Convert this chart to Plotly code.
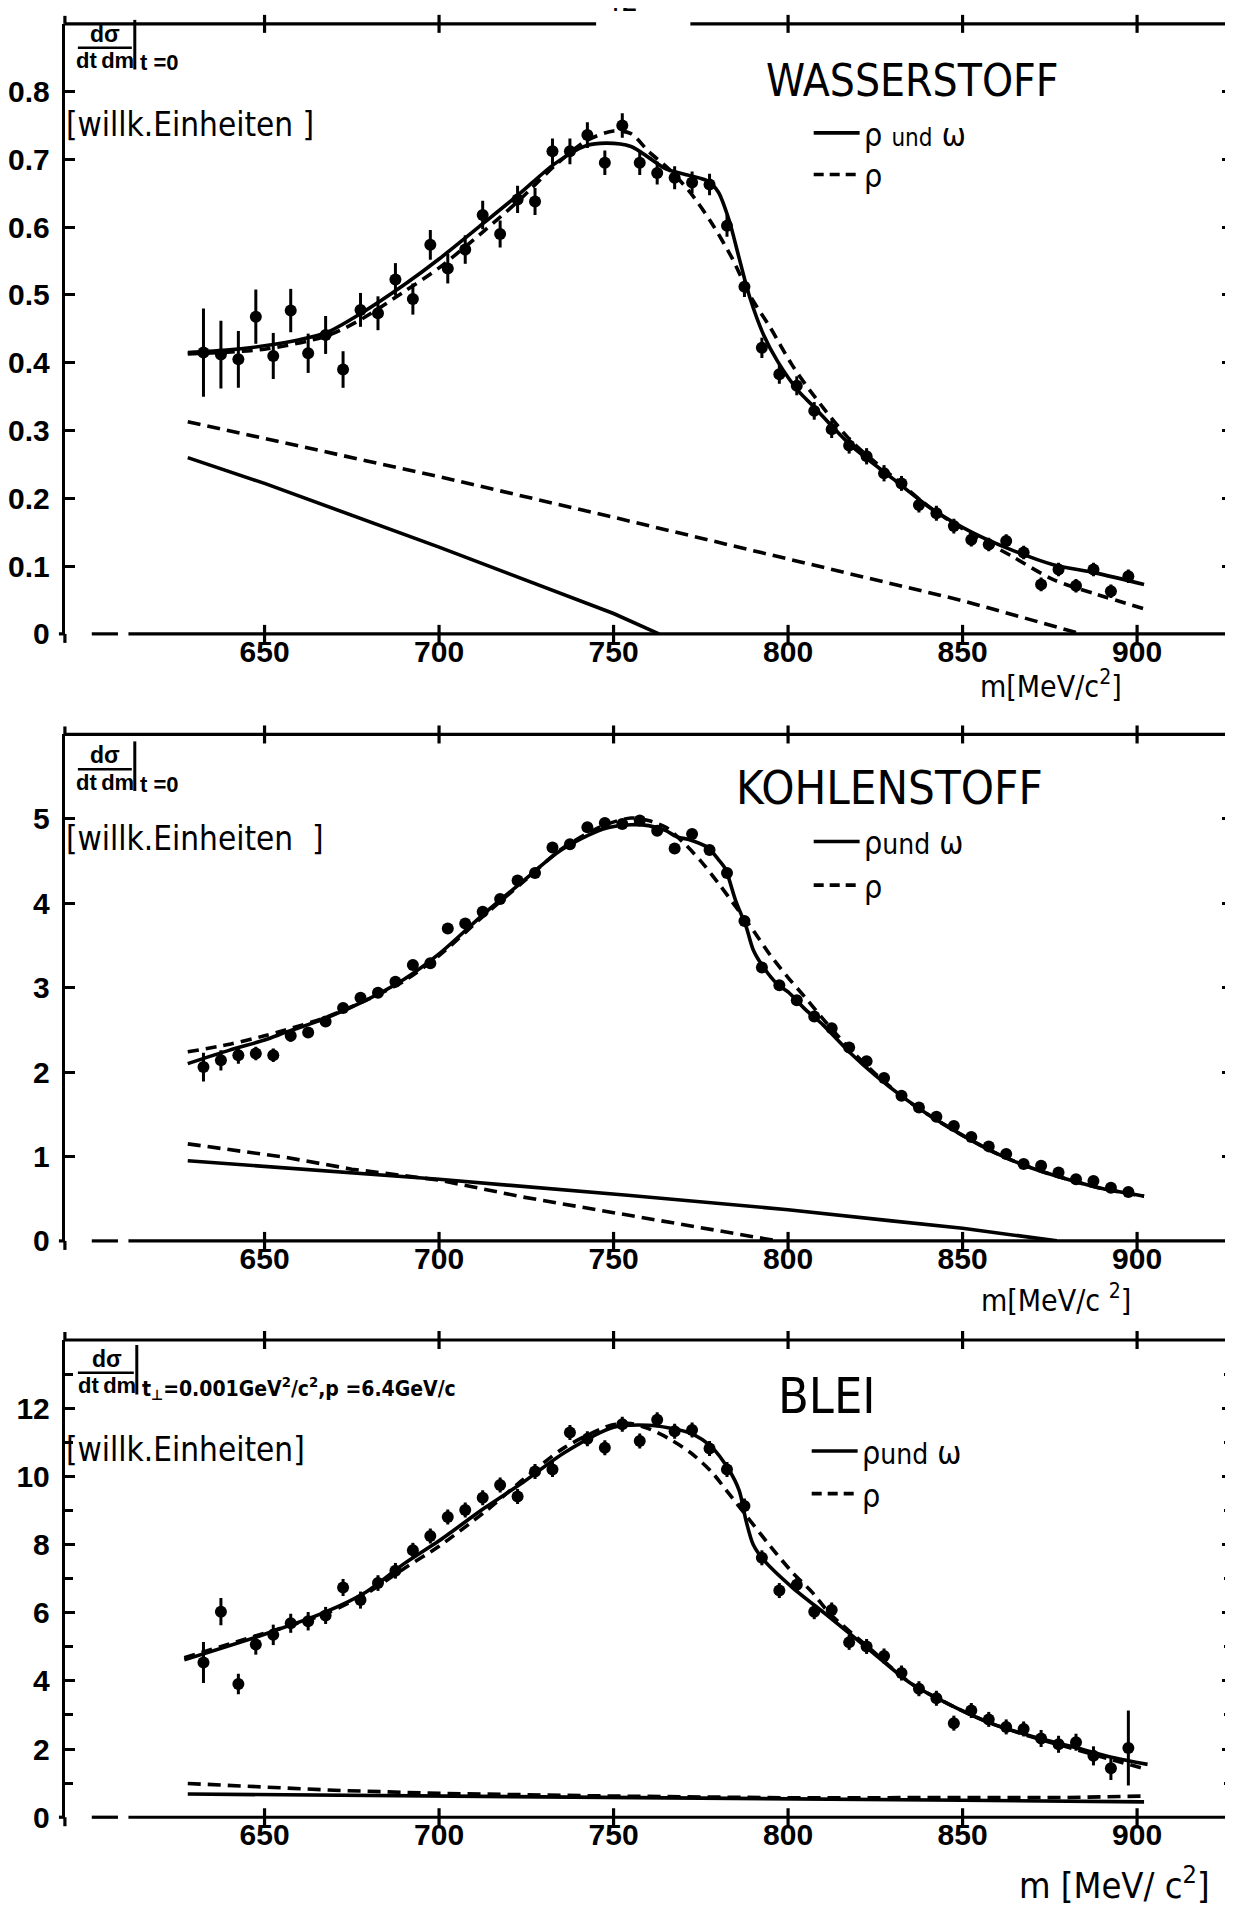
import plotly.graph_objects as go

W, H = 1233, 1907
FONT = "DejaVu Sans Condensed, Liberation Sans Narrow, Liberation Sans, sans-serif"
TICKFONT_FAMILY = "Liberation Sans, Arial, sans-serif"
SMALL_FAMILY = "Liberation Sans, Arial, sans-serif"

# ---------------- data ----------------
M_BINS = [632.5, 637.5, 642.5, 647.5, 652.5, 657.5, 662.5, 667.5, 672.5, 677.5,
          682.5, 687.5, 692.5, 697.5, 702.5, 707.5, 712.5, 717.5, 722.5, 727.5,
          732.5, 737.5, 742.5, 747.5, 752.5, 757.5, 762.5, 767.5, 772.5, 777.5,
          782.5, 787.5, 792.5, 797.5, 802.5, 807.5, 812.5, 817.5, 822.5, 827.5,
          832.5, 837.5, 842.5, 847.5, 852.5, 857.5, 862.5, 867.5, 872.5, 877.5,
          882.5, 887.5, 892.5, 897.5]
X_TICKS = [650, 700, 750, 800, 850, 900]
X_TICK_TEXT = ["650", "700", "750", "800", "850", "900"]

# Wasserstoff
H_Y = [0.415, 0.412, 0.405, 0.468, 0.410, 0.477, 0.414, 0.441, 0.390, 0.478,
       0.473, 0.523, 0.494, 0.574, 0.539, 0.567, 0.618, 0.590, 0.641, 0.638,
       0.712, 0.712, 0.736, 0.695, 0.750, 0.695, 0.680, 0.673, 0.666, 0.663,
       0.602, 0.512, 0.422, 0.383, 0.366, 0.329, 0.302, 0.278, 0.262, 0.237,
       0.222, 0.190, 0.178, 0.159, 0.139, 0.132, 0.137, 0.120, 0.073, 0.095,
       0.071, 0.095, 0.063, 0.085]
H_ERR = [0.065, 0.050, 0.042, 0.040, 0.034, 0.032, 0.029, 0.028, 0.027, 0.025,
         0.025, 0.024, 0.023, 0.022, 0.022, 0.021, 0.021, 0.020, 0.020, 0.020,
         0.019, 0.019, 0.019, 0.018, 0.018, 0.018, 0.017, 0.017, 0.016, 0.016,
         0.016, 0.015, 0.015, 0.014, 0.014, 0.013, 0.013, 0.012, 0.012, 0.012,
         0.011, 0.011, 0.011, 0.011, 0.010, 0.010, 0.010, 0.010, 0.010, 0.010,
         0.010, 0.010, 0.010, 0.010]
H_FIT_RW_M = [628, 640, 650, 660, 668, 678, 690, 700, 713, 723, 733, 742, 748, 755,
              760, 765, 772, 777, 780, 783, 786, 789, 793, 797, 803, 807, 818, 830,
              841, 853, 864, 876, 888, 902]
H_FIT_RW_Y = [0.415, 0.419, 0.425, 0.434, 0.445, 0.474, 0.515, 0.553, 0.607, 0.649,
              0.693, 0.720, 0.724, 0.719, 0.703, 0.686, 0.676, 0.668, 0.652, 0.612,
              0.554, 0.497, 0.441, 0.402, 0.358, 0.337, 0.278, 0.229, 0.185, 0.149,
              0.124, 0.102, 0.090, 0.073]
H_FIT_R_M = [628, 650, 668, 678, 690, 700, 713, 723, 733, 742, 750, 755, 760, 766,
             772, 778, 784, 789, 795, 801, 807, 818, 830, 841, 853, 864, 876, 888, 902]
H_FIT_R_Y = [0.413, 0.420, 0.440, 0.465, 0.505, 0.540, 0.595, 0.640, 0.690, 0.727,
             0.742, 0.738, 0.712, 0.685, 0.651, 0.607, 0.554, 0.500, 0.451, 0.398,
             0.354, 0.285, 0.232, 0.185, 0.146, 0.115, 0.080, 0.059, 0.037]
H_BG_RW_M = [628, 650, 700, 750, 763]
H_BG_RW_Y = [0.260, 0.222, 0.128, 0.030, 0.0]
H_BG_R_M = [628, 650, 700, 750, 800, 850, 884]
H_BG_R_Y = [0.313, 0.288, 0.232, 0.172, 0.110, 0.049, 0.0]

# Kohlenstoff
C_Y = [2.06, 2.14, 2.20, 2.22, 2.20, 2.43, 2.47, 2.60, 2.76, 2.88,
       2.94, 3.07, 3.27, 3.29, 3.70, 3.76, 3.90, 4.05, 4.27, 4.36,
       4.66, 4.70, 4.90, 4.95, 4.94, 4.98, 4.86, 4.65, 4.82, 4.63,
       4.36, 3.79, 3.24, 3.03, 2.85, 2.66, 2.52, 2.29, 2.13, 1.93,
       1.72, 1.58, 1.47, 1.36, 1.23, 1.12, 1.03, 0.91, 0.89, 0.81,
       0.73, 0.71, 0.63, 0.58]
C_ERR = [0.17, 0.12, 0.10, 0.08, 0.08, 0.07, 0.06, 0.06, 0.06, 0.06,
         0.06, 0.06, 0.06, 0.06, 0.06, 0.06, 0.06, 0.06, 0.06, 0.06,
         0.06, 0.06, 0.06, 0.06, 0.06, 0.06, 0.06, 0.06, 0.06, 0.06,
         0.05, 0.05, 0.05, 0.05, 0.05, 0.05, 0.05, 0.05, 0.05, 0.05,
         0.05, 0.05, 0.04, 0.04, 0.04, 0.04, 0.04, 0.04, 0.04, 0.04,
         0.04, 0.04, 0.04, 0.04]
C_FIT_RW_M = [628, 640, 650, 656, 667, 679, 690, 700, 713, 724, 735, 747, 755, 760,
              765, 768, 772, 777, 780, 782, 785, 788, 790, 793, 797, 800, 805, 810,
              818, 825, 833, 840, 850, 860, 870, 880, 890, 902]
C_FIT_RW_Y = [2.10, 2.26, 2.38, 2.47, 2.63, 2.85, 3.10, 3.40, 3.88, 4.26, 4.63, 4.88,
              4.93, 4.92, 4.86, 4.79, 4.75, 4.66, 4.52, 4.41, 4.03, 3.72, 3.45, 3.24,
              3.04, 2.95, 2.74, 2.56, 2.22, 1.96, 1.70, 1.50, 1.25, 1.03, 0.86, 0.73,
              0.62, 0.53]
C_FIT_R_M = [628, 640, 650, 656, 667, 679, 690, 700, 713, 724, 735, 747, 755, 760,
             765, 770, 775, 780, 785, 790, 795, 800, 805, 810, 818, 825, 833, 840,
             850, 860, 870, 880, 890, 902]
C_FIT_R_Y = [2.24, 2.33, 2.43, 2.50, 2.64, 2.85, 3.08, 3.38, 3.86, 4.25, 4.64, 4.92,
             5.01, 4.98, 4.90, 4.72, 4.50, 4.24, 3.96, 3.68, 3.38, 3.12, 2.88, 2.63,
             2.26, 1.98, 1.70, 1.50, 1.25, 1.03, 0.86, 0.73, 0.62, 0.53]
C_BG_RW_M = [628, 675, 700, 754, 800, 829, 850, 877]
C_BG_RW_Y = [0.95, 0.81, 0.73, 0.54, 0.37, 0.24, 0.15, 0.0]
C_BG_R_M = [628, 656, 675, 700, 724, 754, 776, 797]
C_BG_R_Y = [1.15, 0.99, 0.85, 0.72, 0.52, 0.31, 0.15, 0.0]

# Blei
P_Y = [4.54, 6.03, 3.91, 5.07, 5.35, 5.69, 5.75, 5.92, 6.74, 6.37,
       6.87, 7.23, 7.83, 8.25, 8.81, 9.01, 9.37, 9.75, 9.41, 10.14,
       10.20, 11.29, 11.10, 10.84, 11.53, 11.04, 11.66, 11.32, 11.36, 10.82,
       10.20, 9.13, 7.61, 6.65, 6.82, 6.03, 6.08, 5.13, 5.01, 4.73,
       4.23, 3.77, 3.49, 2.76, 3.13, 2.87, 2.65, 2.59, 2.31, 2.14,
       2.20, 1.80, 1.44, 2.03]
P_ERR = [0.60, 0.40, 0.30, 0.30, 0.30, 0.28, 0.27, 0.25, 0.25, 0.25,
         0.23, 0.23, 0.22, 0.22, 0.22, 0.22, 0.22, 0.22, 0.22, 0.22,
         0.22, 0.22, 0.22, 0.22, 0.22, 0.22, 0.22, 0.22, 0.22, 0.22,
         0.22, 0.22, 0.22, 0.22, 0.22, 0.22, 0.22, 0.22, 0.22, 0.22,
         0.22, 0.22, 0.22, 0.22, 0.22, 0.22, 0.22, 0.22, 0.25, 0.25,
         0.25, 0.28, 0.35, 1.10]
P_FIT_RW_M = [627, 650, 667, 679, 690, 700, 713, 724, 736, 750, 760, 766, 772, 778,
              783, 786, 788, 790, 793, 801, 812, 824, 835, 847, 858, 870, 881, 893, 903]
P_FIT_RW_Y = [4.62, 5.37, 6.00, 6.60, 7.44, 8.11, 9.07, 9.82, 10.70, 11.44, 11.50,
              11.42, 11.27, 10.87, 10.20, 9.58, 8.68, 8.00, 7.55, 6.76, 5.86, 4.85,
              3.94, 3.27, 2.76, 2.37, 2.08, 1.75, 1.55]
P_FIT_R_M = [627, 650, 667, 679, 690, 700, 713, 724, 736, 749, 755, 760, 766, 772,
             778, 783, 788, 795, 801, 807, 812, 824, 835, 847, 858, 870, 881, 893, 903]
P_FIT_R_Y = [4.68, 5.40, 5.95, 6.55, 7.30, 7.95, 8.95, 9.90, 10.85, 11.49, 11.55,
             11.40, 11.10, 10.70, 10.14, 9.50, 8.85, 7.94, 7.21, 6.59, 5.97, 4.90,
             3.94, 3.27, 2.76, 2.35, 2.03, 1.68, 1.40]
P_BG_RW_M = [628, 700, 750, 800, 850, 902]
P_BG_RW_Y = [0.68, 0.63, 0.58, 0.54, 0.50, 0.45]
P_BG_R_M = [628, 650, 670, 700, 750, 800, 850, 880, 902]
P_BG_R_Y = [0.99, 0.88, 0.79, 0.70, 0.62, 0.57, 0.56, 0.58, 0.62]

H_YT = [0, 0.1, 0.2, 0.3, 0.4, 0.5, 0.6, 0.7, 0.8]
H_YT_TEXT = ["0", "0.1", "0.2", "0.3", "0.4", "0.5", "0.6", "0.7", "0.8"]
C_YT = [0, 1, 2, 3, 4, 5]
C_YT_TEXT = ["0", "1", "2", "3", "4", "5"]
P_YT = [0, 2, 4, 6, 8, 10, 12]
P_YT_TEXT = ["0", "2", "4", "6", "8", "10", "12"]
P_YT_MINOR = [1, 3, 5, 7, 9, 11, 13]

LEGEND_R = "ρ"

# ---------------- layout helpers ----------------
X_RANGE = [592.8, 927.2]
X_DOMAIN = [55 / W, 1224 / W]


def py(p):
    return 1 - p / H


def px(p):
    return p / W


panels = [
    dict(y=H_Y, err=H_ERR,
         rw=(H_FIT_RW_M, H_FIT_RW_Y), r=(H_FIT_R_M, H_FIT_R_Y),
         bgrw=(H_BG_RW_M, H_BG_RW_Y), bgr=(H_BG_R_M, H_BG_R_Y),
         top=16, bottom=631.5, yrange=[0, 0.9], yt=H_YT, ytt=H_YT_TEXT, minor=None),
    dict(y=C_Y, err=C_ERR,
         rw=(C_FIT_RW_M, C_FIT_RW_Y), r=(C_FIT_R_M, C_FIT_R_Y),
         bgrw=(C_BG_RW_M, C_BG_RW_Y), bgr=(C_BG_R_M, C_BG_R_Y),
         top=733, bottom=1244, yrange=[0, 6], yt=C_YT, ytt=C_YT_TEXT, minor=None),
    dict(y=P_Y, err=P_ERR,
         rw=(P_FIT_RW_M, P_FIT_RW_Y), r=(P_FIT_R_M, P_FIT_R_Y),
         bgrw=(P_BG_RW_M, P_BG_RW_Y), bgr=(P_BG_R_M, P_BG_R_Y),
         top=1344, bottom=1825.5, yrange=[0, 14], yt=P_YT, ytt=P_YT_TEXT, minor=P_YT_MINOR),
]

fig = go.Figure()
shapes = []
annotations = []
LW = 3.2
CW = 3.6
BLACK = "black"
tickfont = dict(family=TICKFONT_FAMILY, size=30, color=BLACK, weight="bold")

for i, p in enumerate(panels):
    sfx = "" if i == 0 else str(i + 1)
    xa, ya = "x" + sfx, "y" + sfx
    common = dict(xaxis=xa, yaxis=ya, showlegend=False, hoverinfo="skip")
    # background lines
    fig.add_trace(go.Scatter(x=p["bgr"][0], y=p["bgr"][1], mode="lines",
                             line=dict(color=BLACK, width=CW, dash="13px,7px"), **common))
    fig.add_trace(go.Scatter(x=p["bgrw"][0], y=p["bgrw"][1], mode="lines",
                             line=dict(color=BLACK, width=CW), **common))
    # fits
    fig.add_trace(go.Scatter(x=p["r"][0], y=p["r"][1], mode="lines", name="ρ",
                             line=dict(color=BLACK, width=CW, dash="11px,7px",
                                       shape="spline", smoothing=0.8), **common))
    fig.add_trace(go.Scatter(x=p["rw"][0], y=p["rw"][1], mode="lines", name="ρ und ω",
                             line=dict(color=BLACK, width=CW, shape="spline", smoothing=0.8),
                             **common))
    # data points
    fig.add_trace(go.Scatter(x=M_BINS, y=p["y"], mode="markers",
                             marker=dict(color=BLACK, size=12, symbol="circle"),
                             error_y=dict(type="data", array=p["err"], color=BLACK,
                                          thickness=3, width=0),
                             **common))

    dom = [py(p["bottom"]), py(p["top"])]
    xkey = "xaxis" + sfx
    ykey = "yaxis" + sfx
    yax = dict(domain=dom, range=p["yrange"], anchor=xa, showline=True, linewidth=LW,
               linecolor=BLACK, mirror="ticks", ticks="inside", ticklen=10,
               tickwidth=LW, tickcolor=BLACK, tickvals=p["yt"], ticktext=p["ytt"],
               tickfont=tickfont, ticklabelstandoff=6,
               showgrid=False, zeroline=False, fixedrange=True)
    if p["minor"]:
        yax["minor"] = dict(tickvals=p["minor"], ticks="inside", ticklen=8,
                            tickwidth=LW, tickcolor=BLACK, showgrid=False)
    xax = dict(domain=X_DOMAIN, range=X_RANGE, anchor=ya, showline=False,
               ticks="", tickvals=X_TICKS, ticktext=X_TICK_TEXT, tickfont=tickfont,
               ticklabelstandoff=-3,
               showgrid=False, zeroline=False, fixedrange=True)
    fig.update_layout(**{xkey: xax, ykey: yax})

    yd = ya + " domain"
    # bottom axis: short dash then solid
    shapes.append(dict(type="line", xref=xa, yref=yd, x0=600.5, x1=608, y0=0, y1=0,
                       line=dict(color=BLACK, width=LW)))
    shapes.append(dict(type="line", xref=xa, yref=yd, x0=611, x1=X_RANGE[1], y0=0, y1=0,
                       line=dict(color=BLACK, width=LW)))
    # top border
    if i == 0:
        segs = [(X_RANGE[0], 745), (772, X_RANGE[1])]
    else:
        segs = [(X_RANGE[0], X_RANGE[1])]
    for a, b in segs:
        shapes.append(dict(type="line", xref=xa, yref=yd, x0=a, x1=b, y0=1, y1=1,
                           line=dict(color=BLACK, width=LW)))
    # crossing ticks on bottom and top borders
    for t in X_TICKS:
        shapes.append(dict(type="line", xref=xa, yref=yd, ysizemode="pixel", yanchor=0,
                           x0=t, x1=t, y0=-9, y1=9, line=dict(color=BLACK, width=LW)))
        if i == 0 and t == 750:
            continue
        shapes.append(dict(type="line", xref=xa, yref=yd, ysizemode="pixel", yanchor=1,
                           x0=t, x1=t, y0=-9, y1=9, line=dict(color=BLACK, width=LW)))
    # small outer piece of the zero tick and border extensions
    shapes.append(dict(type="line", xref=xa + " domain", yref=yd, xsizemode="pixel",
                       xanchor=0, ysizemode="pixel", yanchor=0, x0=-6, x1=0, y0=0, y1=0,
                       line=dict(color=BLACK, width=LW)))
    for xv in (0, 1):
        shapes.append(dict(type="line", xref=xa + " domain", yref=yd, ysizemode="pixel",
                           yanchor=0, x0=xv, x1=xv, y0=-9, y1=0,
                           line=dict(color=BLACK, width=LW)))
    shapes.append(dict(type="line", xref=xa + " domain", yref=yd, ysizemode="pixel",
                       yanchor=1, x0=0, x1=0, y0=0, y1=8, line=dict(color=BLACK, width=LW)))


# ---------------- texts ----------------
def ann(text, x, y, size, xanchor="left", yanchor="middle", bold=False, family=FONT):
    annotations.append(dict(text=text, x=px(x), y=py(y), xref="paper", yref="paper",
                            xanchor=xanchor, yanchor=yanchor, showarrow=False,
                            borderpad=0,
                            font=dict(family=family, size=size, color=BLACK,
                                      weight="bold" if bold else "normal")))


def pline(x0, x1, y0, y1, dash=None, width=LW):
    d = dict(type="line", xref="paper", yref="paper", x0=px(x0), x1=px(x1),
             y0=py(y0), y1=py(y1), line=dict(color=BLACK, width=width))
    if dash:
        d["line"]["dash"] = dash
    shapes.append(d)


def fraction(cx, ytop, sub, bar_x0, bar_x1, vx, sub_size, sub_family=SMALL_FAMILY):
    ann("dσ", cx, ytop + 12, 23, xanchor="center", bold=True, family=SMALL_FAMILY)
    pline(bar_x0, bar_x1, ytop + 26, ytop + 26, width=2.5)
    ann("dt\u2009dm", cx, ytop + 39, 22, xanchor="center", bold=True, family=SMALL_FAMILY)
    pline(vx, vx, ytop - 2, ytop + 48, width=3)
    ann(sub, vx + 4, ytop + 41, sub_size, bold=True, family=sub_family)


def legend(x0, y_solid, y_dash, rw_text):
    pline(x0, x0 + 46, y_solid, y_solid, width=CW)
    pline(x0, x0 + 46, y_dash, y_dash, dash="10px,6px", width=CW)
    ann(rw_text, x0 + 49, y_solid + 2, 32)
    ann(LEGEND_R, x0 + 49, y_dash + 2, 32)


# page number, partly cut at the top edge
ann("42", 612, -8, 30, xanchor="center")

# Panel 1
fraction(95, 14, "t =0", 68, 122, 125, 22)
ann("[willk.Einheiten ]", 55, 118, 33)
ann("WASSERSTOFF", 756, 73, 44)
legend(805, 126, 168, "ρ <span style='font-size:24px'>und</span> ω")
ann("m[MeV/c<sup>2</sup>]", 971, 683, 30)

# Panel 2
fraction(95, 742, "t =0", 68, 122, 125, 22)
ann("[willk.Einheiten  ]", 55, 838, 33)
ann("KOHLENSTOFF", 726, 787, 47)
legend(805, 841, 885, "ρ<span style='font-size:28px'>und</span> ω")
ann("m[MeV/c <sup>2</sup>]", 972, 1302, 30)

# Panel 3
fraction(97, 1351, "t<sub>⊥</sub>=0.001GeV<sup>2</sup>/c<sup>2</sup>,p =6.4GeV/c",
         68, 124, 127, 21, sub_family=FONT)
ann("[willk.Einheiten]", 55, 1454, 33)
ann("BLEI", 768, 1400, 50)
legend(803, 1456, 1499, "ρ<span style='font-size:28px'>und</span> ω")
ann("m [MeV/ c<sup>2</sup>]", 1010, 1892, 36)

fig.update_layout(width=W, height=H, margin=dict(l=0, r=0, t=0, b=0, pad=0),
                  paper_bgcolor="white", plot_bgcolor="white", showlegend=False,
                  shapes=shapes, annotations=annotations,
                  font=dict(family=FONT, color=BLACK))

fig.write_html("out.html", config={"displayModeBar": False})
